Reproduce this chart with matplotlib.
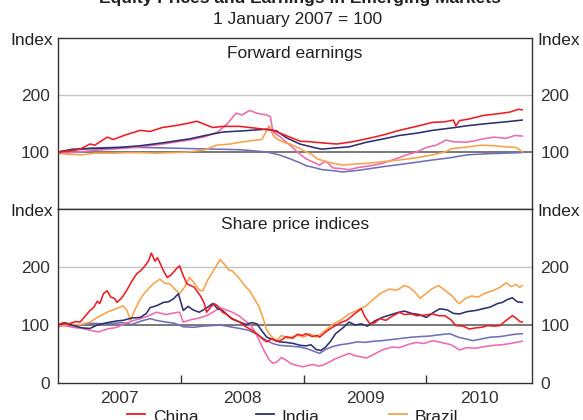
"""Emerging market forward earnings and share prices, 1 January 2007 = 100."""
import matplotlib
matplotlib.use("Agg")
import matplotlib.pyplot as plt
from matplotlib.lines import Line2D

FS = 12.5
matplotlib.rcParams.update({
    "font.family": ["Liberation Sans", "DejaVu Sans"], "font.size": FS,
    "axes.linewidth": 1.0, "axes.edgecolor": "#333333",
    "xtick.color": "#333333", "ytick.color": "#333333",
    "text.color": "#222222",
})

COLORS = {"China": "#ED1C24", "India": "#2E2F6E", "Brazil": "#F7A24B",
          "Russia": "#EE6AAE", "Other": "#7070B8"}

# --- Forward earnings (year, index) ---
fe_china_t = [2007.00, 2007.05, 2007.12, 2007.18, 2007.26, 2007.30, 2007.40, 2007.45, 2007.55,
              2007.67, 2007.75, 2007.85, 2007.95, 2008.05, 2008.13, 2008.20, 2008.26, 2008.35,
              2008.48, 2008.60, 2008.75, 2008.82, 2008.89, 2008.97, 2009.05, 2009.15, 2009.27,
              2009.40, 2009.51, 2009.65, 2009.78, 2009.92, 2010.05, 2010.15, 2010.22, 2010.24,
              2010.27, 2010.35, 2010.46, 2010.58, 2010.68, 2010.75, 2010.78]
fe_china_v = [100, 101, 103, 105, 114, 112, 126, 122, 130,
              138, 136, 143, 146, 150, 154, 148, 143, 145,
              145, 142, 138, 132, 126, 119, 118, 116, 114,
              118, 123, 130, 138, 145, 152, 153, 156, 146,
              155, 158, 164, 167, 170, 175, 174]

fe_india_t = [2007.00, 2007.12, 2007.30, 2007.50, 2007.67, 2007.85, 2008.07, 2008.20, 2008.34,
              2008.50, 2008.70, 2008.78, 2008.86, 2008.97, 2009.10, 2009.15, 2009.25, 2009.37,
              2009.51, 2009.65, 2009.78, 2009.92, 2010.05, 2010.20, 2010.33, 2010.50, 2010.65,
              2010.78]
fe_india_v = [100, 105, 106, 108, 111, 116, 123, 129, 135,
              137, 140, 137, 125, 114, 107, 105, 107, 109,
              117, 123, 129, 133, 138, 142, 146, 150, 153,
              156]

fe_brazil_t = [2007.00, 2007.08, 2007.20, 2007.30, 2007.45, 2007.60, 2007.80, 2007.95, 2008.07,
               2008.20, 2008.29, 2008.40, 2008.48, 2008.58, 2008.66, 2008.72, 2008.75, 2008.78,
               2008.85, 2008.89, 2008.97, 2009.02, 2009.06, 2009.11, 2009.20, 2009.32, 2009.42,
               2009.51, 2009.65, 2009.78, 2009.92, 2010.05, 2010.15, 2010.21, 2010.30, 2010.45,
               2010.55, 2010.65, 2010.73, 2010.76, 2010.78]
fe_brazil_v = [98, 96, 95, 98, 98, 99, 98, 99, 100,
               104, 112, 114, 117, 120, 122, 146, 130, 123,
               116, 114, 106, 100, 97, 88, 82, 77, 79,
               80, 83, 86, 90, 95, 100, 106, 108, 112,
               111, 109, 108, 104, 100]

fe_russia_t = [2007.00, 2007.12, 2007.30, 2007.50, 2007.67, 2007.85, 2008.07, 2008.20, 2008.30,
               2008.38, 2008.45, 2008.50, 2008.56, 2008.62, 2008.70, 2008.73, 2008.75, 2008.80,
               2008.89, 2008.96, 2009.02, 2009.08, 2009.13, 2009.18, 2009.24, 2009.30, 2009.37,
               2009.45, 2009.55, 2009.64, 2009.75, 2009.84, 2009.92, 2010.00, 2010.08, 2010.16,
               2010.22, 2010.32, 2010.40, 2010.46, 2010.55, 2010.65, 2010.72, 2010.78]
fe_russia_v = [97, 99, 103, 106, 109, 114, 121, 127, 135,
               150, 168, 165, 173, 168, 165, 162, 135, 128,
               112, 98, 88, 82, 77, 84, 72, 71, 69,
               73, 76, 80, 88, 95, 100, 108, 112, 121,
               118, 117, 120, 123, 126, 124, 129, 128]

fe_other_t = [2007.00, 2007.12, 2007.26, 2007.45, 2007.67, 2007.90, 2008.07, 2008.30, 2008.48,
              2008.60, 2008.70, 2008.80, 2008.89, 2008.96, 2009.02, 2009.10, 2009.15, 2009.25,
              2009.32, 2009.45, 2009.64, 2009.85, 2010.05, 2010.20, 2010.33, 2010.50, 2010.65,
              2010.78]
fe_other_v = [100, 103, 107, 108, 108, 107, 106, 105, 104,
              102, 100, 95, 88, 82, 76, 72, 69, 67,
              65, 68, 74, 80, 86, 90, 95, 97, 98,
              99]

# --- Share price indices (year, index) ---
sp_china_t = [2007.00, 2007.04, 2007.08, 2007.14, 2007.18, 2007.22, 2007.26, 2007.29, 2007.32,
              2007.34, 2007.37, 2007.40, 2007.43, 2007.46, 2007.48, 2007.51, 2007.53, 2007.56,
              2007.60, 2007.64, 2007.68, 2007.72, 2007.74, 2007.76, 2007.79, 2007.81, 2007.83,
              2007.86, 2007.89, 2007.92, 2007.96, 2007.99, 2008.02, 2008.05, 2008.08, 2008.11,
              2008.13, 2008.16, 2008.19, 2008.21, 2008.24, 2008.27, 2008.30, 2008.34, 2008.37,
              2008.41, 2008.45, 2008.48, 2008.53, 2008.58, 2008.63, 2008.67, 2008.70, 2008.74,
              2008.78, 2008.81, 2008.86, 2008.91, 2008.95, 2008.99, 2009.02, 2009.07, 2009.11,
              2009.13, 2009.18, 2009.22, 2009.26, 2009.30, 2009.35, 2009.38, 2009.42, 2009.47,
              2009.50, 2009.54, 2009.58, 2009.62, 2009.67, 2009.72, 2009.78, 2009.82, 2009.88,
              2009.92, 2009.98, 2010.05, 2010.10, 2010.15, 2010.20, 2010.24, 2010.30, 2010.35,
              2010.40, 2010.45, 2010.50, 2010.55, 2010.60, 2010.65, 2010.70, 2010.73, 2010.76,
              2010.78]
sp_china_v = [100, 104, 101, 106, 105, 115, 125, 130, 141,
              137, 154, 159, 148, 146, 139, 145, 150, 160,
              175, 188, 195, 205, 212, 224, 210, 216, 207,
              193, 182, 186, 196, 202, 185, 171, 168, 165,
              159, 150, 138, 122, 130, 137, 133, 122, 119,
              112, 108, 105, 97, 91, 83, 75, 71, 76,
              72, 73, 80, 77, 84, 82, 85, 80, 82,
              79, 88, 94, 99, 104, 108, 113, 120, 128,
              114, 102, 104, 111, 108, 115, 122, 118, 119,
              116, 117, 119, 116, 116, 109, 99, 98, 93,
              95, 96, 99, 98, 99, 108, 116, 112, 106,
              105]

sp_india_t = [2007.00, 2007.06, 2007.12, 2007.20, 2007.26, 2007.32, 2007.40, 2007.48, 2007.53,
              2007.60, 2007.67, 2007.72, 2007.75, 2007.80, 2007.86, 2007.90, 2007.94, 2007.98,
              2008.02, 2008.06, 2008.10, 2008.15, 2008.20, 2008.26, 2008.30, 2008.34, 2008.37,
              2008.42, 2008.48, 2008.53, 2008.58, 2008.62, 2008.66, 2008.70, 2008.75, 2008.80,
              2008.86, 2008.92, 2008.97, 2009.02, 2009.06, 2009.10, 2009.14, 2009.18, 2009.22,
              2009.26, 2009.32, 2009.37, 2009.42, 2009.47, 2009.52, 2009.58, 2009.64, 2009.70,
              2009.76, 2009.82, 2009.88, 2009.94, 2010.00, 2010.06, 2010.11, 2010.17, 2010.22,
              2010.27, 2010.33, 2010.40, 2010.46, 2010.52, 2010.58, 2010.62, 2010.66, 2010.70,
              2010.74, 2010.78]
sp_india_v = [100, 104, 99, 95, 94, 100, 104, 107, 108,
              112, 113, 120, 130, 133, 139, 140, 145, 154,
              125, 132, 126, 122, 128, 137, 128, 125, 119,
              110, 105, 101, 104, 102, 90, 79, 75, 71,
              70, 68, 65, 64, 66, 58, 56, 62, 72,
              85, 95, 105, 100, 102, 98, 107, 113, 117,
              121, 124, 120, 118, 113, 122, 128, 126, 120,
              119, 123, 125, 128, 131, 137, 139, 144, 147,
              140, 139]

sp_brazil_t = [2007.00, 2007.05, 2007.10, 2007.18, 2007.26, 2007.32, 2007.40, 2007.46, 2007.53,
               2007.56, 2007.59, 2007.63, 2007.67, 2007.72, 2007.77, 2007.83, 2007.87, 2007.91,
               2007.95, 2007.99, 2008.03, 2008.07, 2008.10, 2008.15, 2008.18, 2008.22, 2008.27,
               2008.32, 2008.35, 2008.39, 2008.42, 2008.47, 2008.52, 2008.56, 2008.60, 2008.64,
               2008.67, 2008.70, 2008.74, 2008.78, 2008.82, 2008.87, 2008.91, 2008.96, 2009.00,
               2009.05, 2009.10, 2009.13, 2009.18, 2009.24, 2009.30, 2009.37, 2009.44, 2009.51,
               2009.57, 2009.63, 2009.70, 2009.76, 2009.82, 2009.86, 2009.90, 2009.95, 2010.00,
               2010.05, 2010.10, 2010.15, 2010.21, 2010.25, 2010.27, 2010.32, 2010.37, 2010.42,
               2010.48, 2010.54, 2010.60, 2010.65, 2010.69, 2010.73, 2010.76, 2010.78]
sp_brazil_v = [100, 98, 102, 100, 105, 113, 122, 127, 133,
               126, 108, 128, 145, 159, 170, 179, 172, 171,
               162, 154, 165, 182, 175, 160, 159, 178, 195,
               213, 206, 195, 193, 182, 168, 159, 145, 130,
               112, 91, 80, 73, 82, 77, 80, 82, 79,
               85, 79, 83, 91, 102, 108, 119, 126, 133,
               145, 155, 162, 160, 168, 165, 158, 146, 155,
               163, 168, 160, 150, 140, 137, 146, 150, 148,
               155, 159, 165, 173, 166, 170, 165, 168]

sp_russia_t = [2007.00, 2007.05, 2007.12, 2007.20, 2007.28, 2007.33, 2007.40, 2007.48, 2007.55,
               2007.62, 2007.67, 2007.74, 2007.80, 2007.88, 2007.95, 2007.99, 2008.02, 2008.08,
               2008.15, 2008.21, 2008.26, 2008.32, 2008.37, 2008.42, 2008.48, 2008.53, 2008.56,
               2008.60, 2008.64, 2008.68, 2008.72, 2008.75, 2008.78, 2008.82, 2008.86, 2008.90,
               2008.95, 2009.00, 2009.03, 2009.08, 2009.12, 2009.16, 2009.21, 2009.26, 2009.31,
               2009.37, 2009.42, 2009.47, 2009.51, 2009.57, 2009.64, 2009.72, 2009.78, 2009.86,
               2009.92, 2009.98, 2010.05, 2010.12, 2010.20, 2010.27, 2010.33, 2010.40, 2010.48,
               2010.55, 2010.62, 2010.68, 2010.73, 2010.78]
sp_russia_v = [97, 99, 96, 94, 90, 88, 93, 96, 103,
               108, 111, 116, 122, 118, 121, 122, 105, 109,
               112, 116, 122, 130, 126, 122, 115, 106, 102,
               90, 73, 55, 40, 34, 36, 44, 39, 33,
               30, 28, 30, 32, 29, 31, 36, 42, 46,
               51, 47, 45, 43, 49, 57, 62, 61, 67,
               70, 68, 73, 70, 66, 57, 61, 60, 63,
               65, 66, 68, 70, 72]

sp_other_t = [2007.00, 2007.08, 2007.15, 2007.26, 2007.40, 2007.52, 2007.60, 2007.68, 2007.75,
              2007.80, 2007.88, 2007.95, 2008.02, 2008.10, 2008.18, 2008.26, 2008.32, 2008.40,
              2008.48, 2008.55, 2008.62, 2008.70, 2008.75, 2008.80, 2008.86, 2008.92, 2008.97,
              2009.03, 2009.08, 2009.13, 2009.18, 2009.24, 2009.30, 2009.37, 2009.44, 2009.50,
              2009.57, 2009.64, 2009.72, 2009.80, 2009.88, 2009.95, 2010.03, 2010.10, 2010.19,
              2010.26, 2010.32, 2010.38, 2010.45, 2010.52, 2010.60, 2010.66, 2010.72, 2010.78]
sp_other_v = [100, 101, 99, 103, 102, 104, 101, 107, 111,
              108, 105, 103, 97, 96, 98, 99, 100, 97,
              94, 91, 84, 73, 68, 65, 64, 63, 62,
              59, 55, 51, 58, 63, 66, 68, 71, 70,
              72, 73, 75, 77, 79, 80, 81, 83, 85,
              79, 76, 73, 76, 79, 80, 82, 84, 85]

YEARS = [2007, 2008, 2009, 2010]
XMIN, XMAX = 2007.0, 2010.86

fig = plt.figure(figsize=(5.83, 4.2), dpi=100)
ax1 = fig.add_axes([0.0995, 0.5024, 0.8130, 0.4071])
ax2 = fig.add_axes([0.0995, 0.0881, 0.8130, 0.4143])

panels = [
    (ax1, "Forward earnings", [100, 200],
     [("Other", fe_other_t, fe_other_v), ("Russia", fe_russia_t, fe_russia_v),
      ("Brazil", fe_brazil_t, fe_brazil_v), ("India", fe_india_t, fe_india_v),
      ("China", fe_china_t, fe_china_v)]),
    (ax2, "Share price indices", [0, 100, 200],
     [("Other", sp_other_t, sp_other_v), ("Russia", sp_russia_t, sp_russia_v),
      ("Brazil", sp_brazil_t, sp_brazil_v), ("India", sp_india_t, sp_india_v),
      ("China", sp_china_t, sp_china_v)]),
]

for ax, title, yt, series in panels:
    ax.axhline(200, color="#C4C4C4", linewidth=1.0, zorder=1)
    ax.axhline(100, color="#6E6E6E", linewidth=1.3, zorder=1)
    for name, t, v in series:
        ax.plot(t, v, color=COLORS[name], linewidth=1.15, zorder=2)
    ax.set_xlim(XMIN, XMAX)
    ax.set_ylim(0, 300)
    ax.set_yticks(yt)
    ax.tick_params(axis="y", length=0, pad=6, labelright=True, labelsize=FS)
    ax.text(0.5, 0.955, title, transform=ax.transAxes, ha="center", va="top", fontsize=FS)
    ax.text(-0.011, 0.985, "Index", transform=ax.transAxes, ha="right", va="center", fontsize=FS)
    ax.text(1.011, 0.985, "Index", transform=ax.transAxes, ha="left", va="center", fontsize=FS)

ax1.tick_params(axis="x", which="both", length=0, labelbottom=False)

ax2.set_xticks(YEARS[1:])
ax2.set_xticklabels([])
ax2.tick_params(axis="x", which="major", direction="in", length=5.5, width=1.0)
mids = [(max(y, XMIN) + min(y + 1, XMAX)) / 2 for y in YEARS]
ax2.set_xticks(mids, minor=True)
ax2.set_xticklabels([str(y) for y in YEARS], minor=True)
ax2.tick_params(axis="x", which="minor", length=0, pad=6, labelsize=FS)

# title, mostly above the visible frame
fig.text(0.515, 0.9935, "Equity Prices and Earnings in Emerging Markets",
         ha="center", va="baseline", fontsize=12.5, fontweight="bold")
fig.text(0.51, 0.953, "1 January 2007 = 100", ha="center", va="center", fontsize=FS)

# legend row (only first row falls inside the frame)
for name, x0 in [("China", 0.2178), ("India", 0.4391), ("Brazil", 0.6672)]:
    fig.add_artist(Line2D([x0, x0 + 0.031], [0.0143, 0.0143], transform=fig.transFigure,
                          color=COLORS[name], linewidth=1.3))
    fig.text(x0 + 0.044, 0.006, name, ha="left", va="center", fontsize=FS)

fig.savefig("out.png", dpi=100)
